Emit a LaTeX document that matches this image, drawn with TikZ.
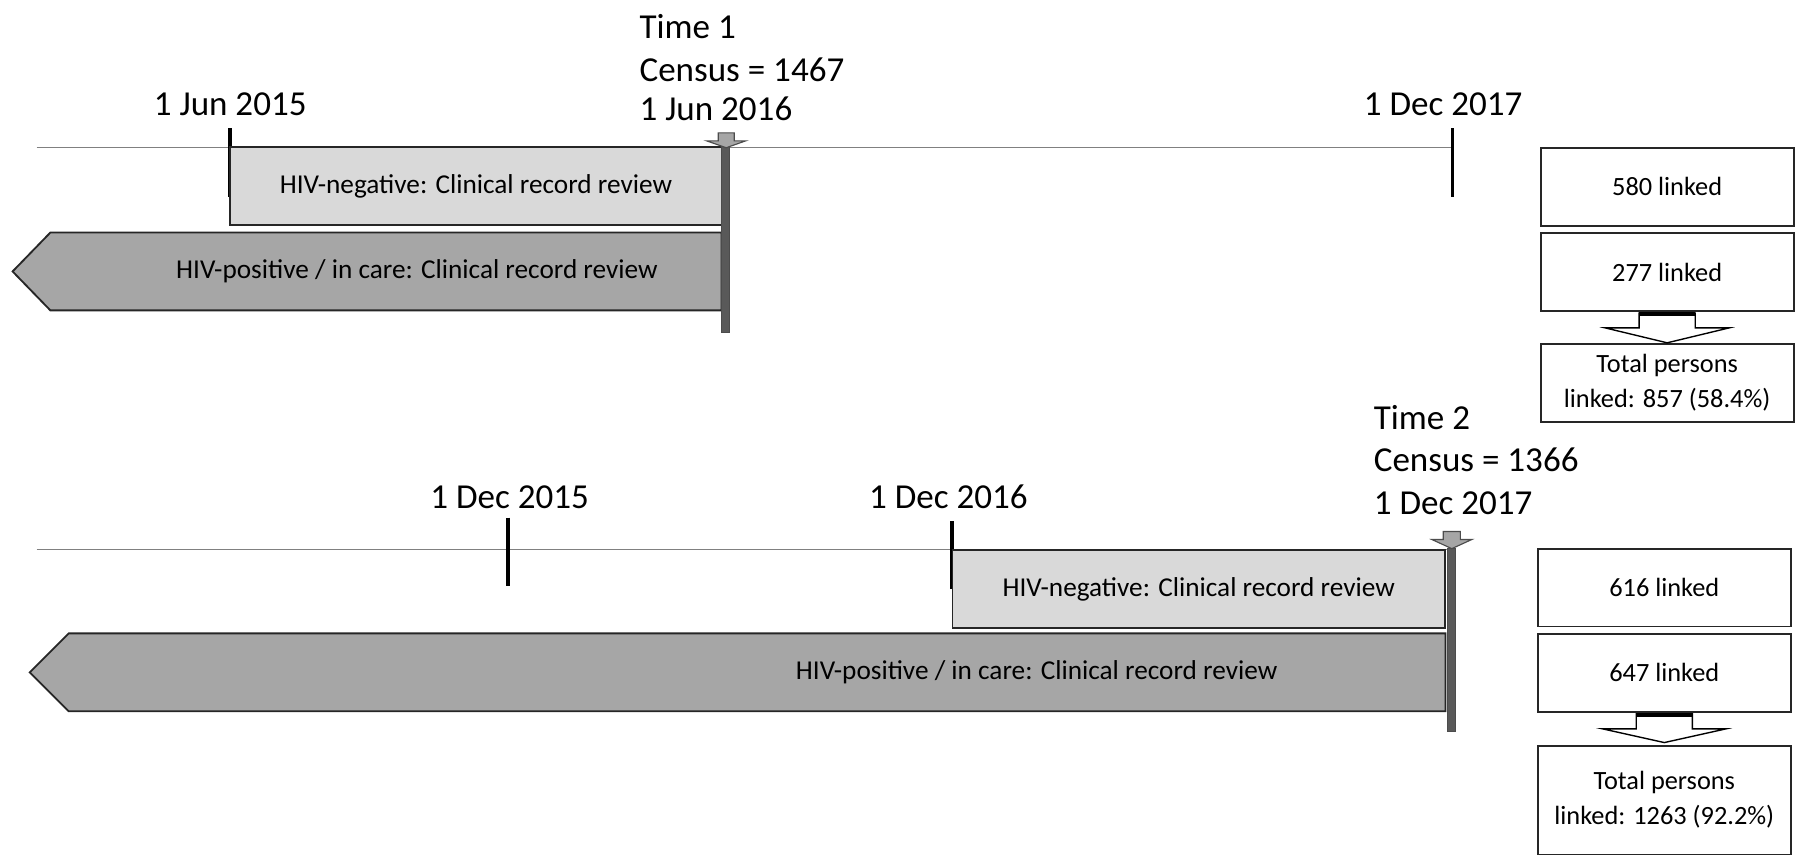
\documentclass[tikz,border=0pt]{standalone}
\usepackage{fontspec}
\setmainfont{Carlito}
\usetikzlibrary{positioning,shapes}
\definecolor{lightbox}{HTML}{D9D9D9}
\definecolor{darkbox}{HTML}{A6A6A6}
\definecolor{barcol}{HTML}{595959}

\begin{document}
\begin{tikzpicture}[x=0.5pt,y=-0.5pt,
    timeline/.style={draw=gray, line width=0.6pt},
    tickmark/.style={line width=1.6pt},
    datelabel/.style={anchor=base, inner sep=0pt, font=\fontsize{15.3}{18}\selectfont},
    censuslabel/.style={anchor=base west, inner sep=0pt, font=\fontsize{15.3}{18}\selectfont},
    negbox/.style={draw=black!85, fill=lightbox, line width=0.8pt, minimum height=34pt},
    posbox/.style={draw=black!85, fill=darkbox, line width=0.8pt},
    boxtext/.style={font=\fontsize{11.9}{15.3}\selectfont, inner sep=0pt},
    countbox/.style={draw=black!85, line width=0.8pt, minimum width=110.5pt, minimum height=34pt,
        align=center, inner sep=0pt, font=\fontsize{11.5}{15.3}\selectfont},
    censusbar/.style={draw=black!70, fill=barcol, line width=0.4pt},
    markarrow/.style={draw=black!70, fill=darkbox, line width=0.5pt},
    sumarrow/.style={draw=black, fill=white, line width=0.6pt}
]
    \useasboundingbox (0,0) rectangle (1568,747);

    % Time 1: timeline and dates
    \draw[timeline] (32,129) -- (1268,129);
    \node[datelabel] (jun15) at (201,101) {1 Jun 2015};
    \node[datelabel] (dec17a) at (1260,101) {1 Dec 2017};
    \draw[tickmark] (201,112) -- (201,172);
    \draw[tickmark] (1268,112) -- (1268,172);
    \node[censuslabel] (time1) at (558,34) {Time 1};
    \node[censuslabel] (census1) at (558,71) {Census = 1467};
    \node[censuslabel] (jun16) at (558,105) {1 Jun 2016};

    % Time 1: record review periods
    \node[negbox, minimum width=214.5pt] (neg1) at (415.5,162.5) {};
    \node[boxtext] at (neg1) {HIV-negative: Clinical record review};
    \draw[posbox] (630,203) -- (44,203) -- (11,237) -- (44,271) -- (630,271) -- cycle;
    \node[boxtext] (pos1) at (364,237) {HIV-positive / in care: Clinical record review};

    % Time 1: census bar
    \draw[censusbar] (630,128) rectangle (637,290);
    \draw[markarrow] (627,116) -- (641,116) -- (641,123) -- (651,123) -- (634,129)
        -- (617,123) -- (627,123) -- cycle;

    % Time 1: linked counts
    \node[countbox] (link1a) at (1455.5,163) {580 linked};
    \node[countbox] (link1b) at (1455.5,237.5) {277 linked};
    \node[countbox] (total1) at (1455.5,334.5) {Total persons\\linked: 857 (58.4\%)};
    \draw[sumarrow] (link1b.south) ++(-24.5,1) -- ++(0,13) -- ++(-29.5,0) -- ++(54,13)
        -- ++(54,-13) -- ++(-29.5,0) -- ++(0,-13) -- cycle;
    \draw[line width=2pt] (link1b.south) ++(-24.5,2) -- ++(49,0);

    % Time 2: timeline and dates
    \draw[timeline] (32,480) -- (1268,480);
    \node[datelabel] (dec15) at (445,444) {1 Dec 2015};
    \node[datelabel] (dec16) at (828,444) {1 Dec 2016};
    \draw[tickmark] (443.5,452) -- (443.5,512);
    \draw[tickmark] (831,455) -- (831,514);
    \node[censuslabel] (time2) at (1199,375) {Time 2};
    \node[censuslabel] (census2) at (1199,412) {Census = 1366};
    \node[censuslabel] (dec17b) at (1199,449.5) {1 Dec 2017};

    % Time 2: record review periods
    \node[negbox, minimum width=215pt] (neg2) at (1046.5,514.5) {};
    \node[boxtext] at (neg2) {HIV-negative: Clinical record review};
    \draw[posbox] (1262,553) -- (60,553) -- (26,587) -- (60,621) -- (1262,621) -- cycle;
    \node[boxtext] (pos2) at (905,587) {HIV-positive / in care: Clinical record review};

    % Time 2: census bar
    \draw[censusbar] (1264,479) rectangle (1271,639);
    \draw[markarrow] (1260,464) -- (1275,464) -- (1275,471) -- (1285,471) -- (1267.5,479)
        -- (1250,471) -- (1260,471) -- cycle;

    % Time 2: linked counts
    \node[countbox] (link2a) at (1453,513) {616 linked};
    \node[countbox] (link2b) at (1453,587.5) {647 linked};
    \node[countbox, minimum height=47.5pt] (total2) at (1453,698.5) {Total persons\\linked: 1263 (92.2\%)};
    \draw[sumarrow] (link2b.south) ++(-24.5,1) -- ++(0,13) -- ++(-29.5,0) -- ++(54,12)
        -- ++(54,-12) -- ++(-29.5,0) -- ++(0,-13) -- cycle;
    \draw[line width=2pt] (link2b.south) ++(-24.5,2) -- ++(49,0);
\end{tikzpicture}
\end{document}
